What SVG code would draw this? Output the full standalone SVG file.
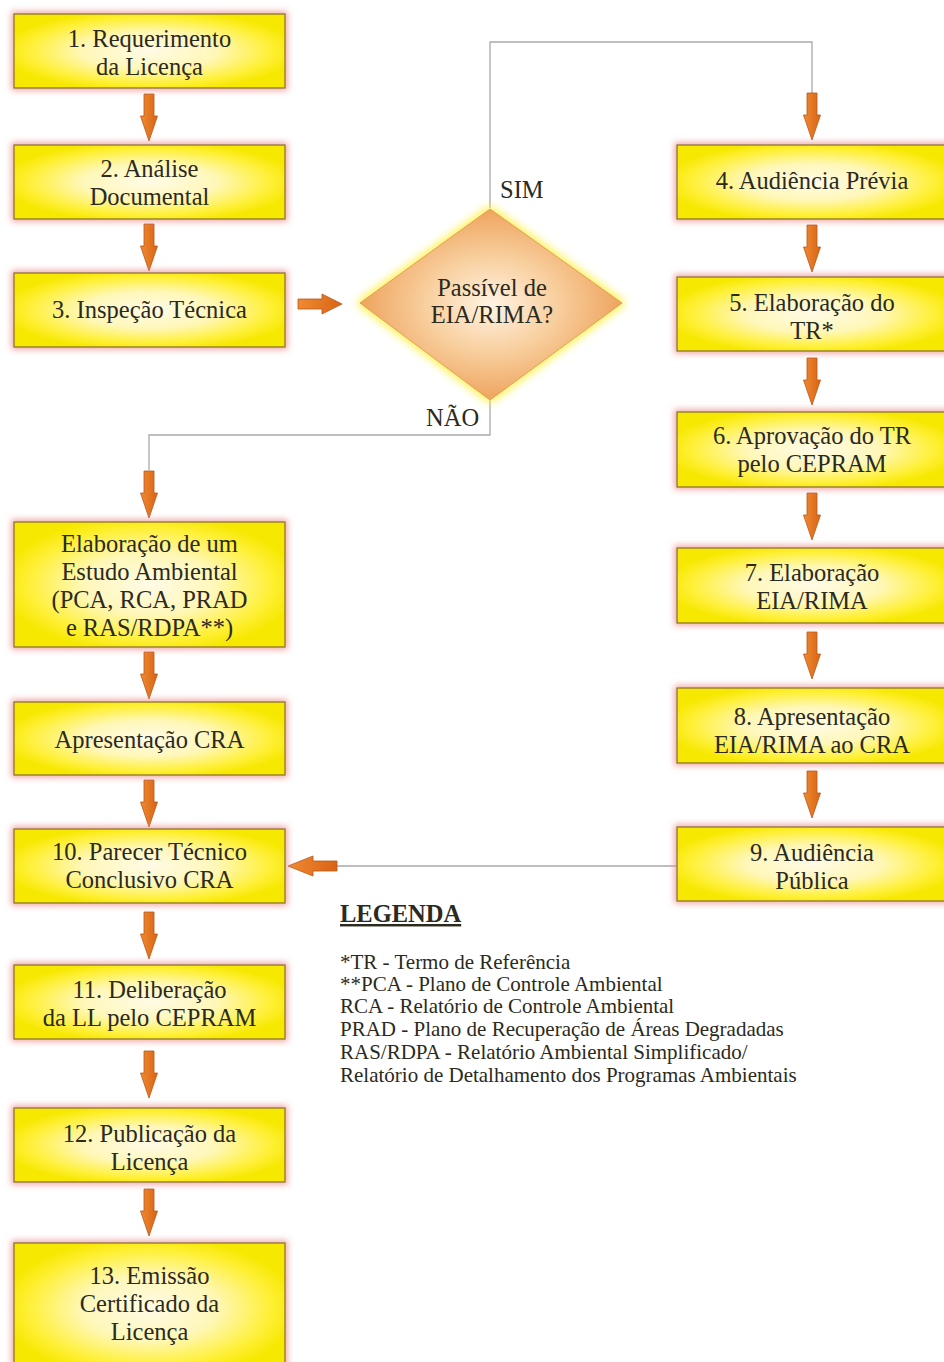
<svg xmlns="http://www.w3.org/2000/svg" xmlns:xlink="http://www.w3.org/1999/xlink" width="944" height="1362" viewBox="0 0 944 1362">
  <style>
    .box { fill: url(#boxFill); stroke: #8a7630; stroke-width: 1.3; filter: url(#pinkHalo); }
    .lbl { font-family: "Liberation Serif", "DejaVu Serif", serif; font-size: 24.5px; fill: #2b2a1c; text-anchor: middle; }
    .tag { font-family: "Liberation Serif", "DejaVu Serif", serif; font-size: 24.5px; fill: #2b2a1c; }
    .leg { font-family: "Liberation Serif", "DejaVu Serif", serif; font-size: 21px; fill: #2b2a1c; }
    .legT { font-family: "Liberation Serif", "DejaVu Serif", serif; font-size: 24.5px; font-weight: bold; fill: #2b2a1c; text-decoration: underline; }
    .wire { fill: none; stroke: #a9a9a9; stroke-width: 1.3; }
    .arrow { fill: url(#arrowFill); stroke: #b9561a; stroke-width: 0.8; }
  </style>
  <defs>
    <radialGradient id="boxFill" cx="0.5" cy="0.5" r="0.55">
      <stop offset="0" stop-color="#fffbe6"/>
      <stop offset="0.45" stop-color="#fff7b8"/>
      <stop offset="0.8" stop-color="#fff03a"/>
      <stop offset="1" stop-color="#f7e800"/>
    </radialGradient>
    <radialGradient id="diamondFill" cx="0.5" cy="0.5" r="0.5">
      <stop offset="0" stop-color="#fff3e4"/>
      <stop offset="0.5" stop-color="#f8cf9e"/>
      <stop offset="1" stop-color="#eea45e"/>
    </radialGradient>
    <linearGradient id="arrowFill" x1="0" y1="0" x2="1" y2="0">
      <stop offset="0" stop-color="#f08a32"/>
      <stop offset="1" stop-color="#d86414"/>
    </linearGradient>
    <filter id="pinkHalo" x="-10%" y="-20%" width="120%" height="140%">
      <feMorphology in="SourceAlpha" operator="dilate" radius="2" result="grow"/>
      <feGaussianBlur in="grow" stdDeviation="3" result="soft"/>
      <feFlood flood-color="#ec8c8c" flood-opacity="0.75"/>
      <feComposite in2="soft" operator="in" result="halo"/>
      <feMerge>
        <feMergeNode in="halo"/>
        <feMergeNode in="SourceGraphic"/>
      </feMerge>
    </filter>
    <filter id="yellowHalo" x="-15%" y="-15%" width="130%" height="130%">
      <feMorphology in="SourceAlpha" operator="dilate" radius="2" result="grow"/>
      <feGaussianBlur in="grow" stdDeviation="4" result="soft"/>
      <feFlood flood-color="#fff040" flood-opacity="0.9"/>
      <feComposite in2="soft" operator="in" result="halo"/>
      <feMerge>
        <feMergeNode in="halo"/>
        <feMergeNode in="SourceGraphic"/>
      </feMerge>
    </filter>
    <!-- thick block arrow pointing down, 47px long -->
    <path id="arrowDown" d="M-5,0 H5 V22 H8.5 L0,47 L-8.5,22 H-5 Z"/>
  </defs>

  <!-- connectors -->
  <g id="connectors">
    <path class="wire" d="M490,208 V42 H812 V93"/>
    <path class="wire" d="M490,400 V435 H149 V470"/>
    <path class="wire" d="M677,866 H337"/>
    <g class="arrow">
      <use xlink:href="#arrowDown" href="#arrowDown" x="149" y="94"/>
      <use xlink:href="#arrowDown" href="#arrowDown" x="149" y="224"/>
      <use xlink:href="#arrowDown" href="#arrowDown" x="149" y="471"/>
      <use xlink:href="#arrowDown" href="#arrowDown" x="149" y="652"/>
      <use xlink:href="#arrowDown" href="#arrowDown" x="149" y="780"/>
      <use xlink:href="#arrowDown" href="#arrowDown" x="149" y="912"/>
      <use xlink:href="#arrowDown" href="#arrowDown" x="149" y="1051"/>
      <use xlink:href="#arrowDown" href="#arrowDown" x="149" y="1189"/>
      <use xlink:href="#arrowDown" href="#arrowDown" x="812" y="93"/>
      <use xlink:href="#arrowDown" href="#arrowDown" x="812" y="225"/>
      <use xlink:href="#arrowDown" href="#arrowDown" x="812" y="358"/>
      <use xlink:href="#arrowDown" href="#arrowDown" x="812" y="493"/>
      <use xlink:href="#arrowDown" href="#arrowDown" x="812" y="632"/>
      <use xlink:href="#arrowDown" href="#arrowDown" x="812" y="771"/>
      <path d="M298,299 H322 V294 L342,304 L322,314 V309 H298 Z"/>
      <path d="M337,861 H313 V856 L288,866 L313,876 V871 H337 Z"/>
    </g>
    <text class="tag" x="500" y="198">SIM</text>
    <text class="tag" x="426" y="426">NÃO</text>
  </g>

  <!-- left column -->
  <g id="n1">
    <rect class="box" x="14" y="14" width="271" height="74"/>
    <text class="lbl" x="149.5" y="47">1. Requerimento</text>
    <text class="lbl" x="149.5" y="75">da Licença</text>
  </g>
  <g id="n2">
    <rect class="box" x="14" y="145" width="271" height="74"/>
    <text class="lbl" x="149.5" y="177">2. Análise</text>
    <text class="lbl" x="149.5" y="205">Documental</text>
  </g>
  <g id="n3">
    <rect class="box" x="14" y="273" width="271" height="74"/>
    <text class="lbl" x="149.5" y="318">3. Inspeção Técnica</text>
  </g>
  <g id="decision">
    <polygon points="490,209 622,303 490,400 360,303" fill="url(#diamondFill)" stroke="#d9904a" stroke-width="0.8" filter="url(#yellowHalo)"/>
    <text class="lbl" x="492" y="296">Passível de</text>
    <text class="lbl" x="492" y="323">EIA/RIMA?</text>
  </g>
  <g id="estudo">
    <rect class="box" x="14" y="522" width="271" height="125"/>
    <text class="lbl" x="149.5" y="552">Elaboração de um</text>
    <text class="lbl" x="149.5" y="580">Estudo Ambiental</text>
    <text class="lbl" x="149.5" y="608">(PCA, RCA, PRAD</text>
    <text class="lbl" x="149.5" y="636">e RAS/RDPA**)</text>
  </g>
  <g id="apresentacao">
    <rect class="box" x="14" y="702" width="271" height="73"/>
    <text class="lbl" x="149.5" y="748">Apresentação CRA</text>
  </g>
  <g id="n10">
    <rect class="box" x="14" y="829" width="271" height="74"/>
    <text class="lbl" x="149.5" y="860">10. Parecer Técnico</text>
    <text class="lbl" x="149.5" y="888">Conclusivo CRA</text>
  </g>
  <g id="n11">
    <rect class="box" x="14" y="965" width="271" height="74"/>
    <text class="lbl" x="149.5" y="998">11. Deliberação</text>
    <text class="lbl" x="149.5" y="1026">da LL pelo CEPRAM</text>
  </g>
  <g id="n12">
    <rect class="box" x="14" y="1108" width="271" height="74"/>
    <text class="lbl" x="149.5" y="1142">12. Publicação da</text>
    <text class="lbl" x="149.5" y="1170">Licença</text>
  </g>
  <g id="n13">
    <rect class="box" x="14" y="1243" width="271" height="130"/>
    <text class="lbl" x="149.5" y="1284">13. Emissão</text>
    <text class="lbl" x="149.5" y="1312">Certificado da</text>
    <text class="lbl" x="149.5" y="1340">Licença</text>
  </g>

  <!-- right column -->
  <g id="n4">
    <rect class="box" x="677" y="145" width="272" height="74"/>
    <text class="lbl" x="812" y="189">4. Audiência Prévia</text>
  </g>
  <g id="n5">
    <rect class="box" x="677" y="277" width="272" height="74"/>
    <text class="lbl" x="812" y="311">5. Elaboração do</text>
    <text class="lbl" x="812" y="339">TR*</text>
  </g>
  <g id="n6">
    <rect class="box" x="677" y="412" width="272" height="75"/>
    <text class="lbl" x="812" y="444">6. Aprovação do TR</text>
    <text class="lbl" x="812" y="472">pelo CEPRAM</text>
  </g>
  <g id="n7">
    <rect class="box" x="677" y="548" width="272" height="75"/>
    <text class="lbl" x="812" y="581">7. Elaboração</text>
    <text class="lbl" x="812" y="609">EIA/RIMA</text>
  </g>
  <g id="n8">
    <rect class="box" x="677" y="688" width="272" height="75"/>
    <text class="lbl" x="812" y="725">8. Apresentação</text>
    <text class="lbl" x="812" y="753">EIA/RIMA ao CRA</text>
  </g>
  <g id="n9">
    <rect class="box" x="677" y="827" width="272" height="74"/>
    <text class="lbl" x="812" y="861">9. Audiência</text>
    <text class="lbl" x="812" y="889">Pública</text>
  </g>

  <!-- legend -->
  <g id="legend">
    <text class="legT" x="340" y="922">LEGENDA</text>
    <text class="leg" x="340" y="969">*TR - Termo de Referência</text>
    <text class="leg" x="340" y="991">**PCA - Plano de Controle Ambiental</text>
    <text class="leg" x="340" y="1013">RCA - Relatório de Controle Ambiental</text>
    <text class="leg" x="340" y="1036">PRAD - Plano de Recuperação de Áreas Degradadas</text>
    <text class="leg" x="340" y="1059">RAS/RDPA - Relatório Ambiental Simplificado/</text>
    <text class="leg" x="340" y="1082">Relatório de Detalhamento dos Programas Ambientais</text>
  </g>
</svg>
